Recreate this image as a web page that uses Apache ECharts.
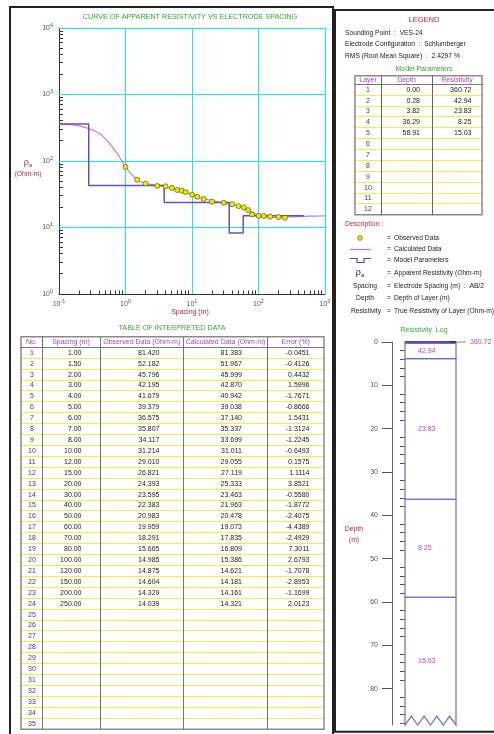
<!DOCTYPE html>
<html>
<head>
<meta charset="utf-8">
<title>VES-24</title>
<script src="https://cdn.jsdelivr.net/npm/echarts@6.0.0/dist/echarts.min.js"></script>
<style>
  html, body { margin: 0; padding: 0; background: #fff; }
  #chart { width: 494px; height: 734px; }
</style>
</head>
<body>
<div id="chart"></div>
<script>
// table of interpreted data
var spacing = [1, 1.5, 2, 3, 4, 5, 6, 7, 8, 10, 12, 15, 20, 30, 40, 50, 60, 70, 80, 100, 120, 150, 200, 250];
var observed = [81.420, 52.182, 45.796, 42.195, 41.679, 39.379, 36.575, 35.807, 34.117, 31.214, 29.010, 26.821,
  24.393, 23.595, 22.383, 20.983, 19.959, 18.291, 15.665, 14.985, 14.875, 14.604, 14.329, 14.039];
var calculated = [81.383, 51.967, 45.999, 42.870, 40.942, 39.038, 37.140, 35.337, 33.699, 31.011, 29.055, 27.119,
  25.333, 23.463, 21.963, 20.478, 19.073, 17.835, 16.809, 15.386, 14.621, 14.181, 14.161, 14.321];
var errorPct = [-0.0451, -0.4126, 0.4432, 1.5996, -1.7671, -0.8666, 1.5431, -1.3124, -1.2245, -0.6493, 0.1575, 1.1114,
  3.8521, -0.5580, -1.8772, -2.4075, -4.4389, -2.4929, 7.3011, 2.6793, -1.7078, -2.8953, -1.1699, 2.0123];
var tableRows = 35;

var curveLeftSpacing = [0.1, 0.15, 0.2, 0.3, 0.4, 0.5, 0.6, 0.7, 0.8, 0.9];
var curveLeftRho = [358, 352, 338, 300, 262, 215, 175, 142, 118, 97];
var curveRightSpacing = [300, 400, 500, 700, 1000];
var curveRightRho = [14.45, 14.6, 14.72, 14.85, 14.95];

// model parameters
var layerNo = ['1', '2', '3', '4', '5', '6', '7', '8', '9', '10', '11', '12'];
var layerDepth = [0, 0.28, 3.82, 36.29, 58.91];
var layerRho = [360.72, 42.94, 23.83, 8.25, 15.03];
var modelLineEnd = 480;
var logMaxDepth = 88.4;

var decadesX = [0.1, 1, 10, 100, 1000];
var decadesY = [1, 10, 100, 1000, 10000];
var depthMajorTicks = [0, 10, 20, 30, 40, 50, 60, 70, 80];

var FONT = '"Liberation Sans", Arial, Helvetica, sans-serif';
var C_GREEN = '#3a9e3a', C_RED = '#a83232', C_PURPLE = '#a643c4', C_BLUE = '#3636a6',
    C_MAG = '#b046bc', C_GRAY = '#555', C_CYAN = '#22e4f0', C_YELLOW = '#f2ec50';

// minor ticks for the log axes and the depth axis
var xMinor = [], yMinor = [], depthMinor = [];
for (var k = -1; k <= 2; k++) for (var m = 2; m <= 9; m++) xMinor.push(m * Math.pow(10, k));
for (k = 0; k <= 3; k++) for (m = 2; m <= 9; m++) yMinor.push(m * Math.pow(10, k));
for (var d = 2; d <= 88; d += 2) if (d % 10) depthMinor.push(d);

var chart = echarts.init(document.getElementById('chart'));

function powLabel(v) {
  var e = Math.round(Math.log(v) / Math.LN10);
  return '{b|10}{s|' + e + '}';
}
function powRich() {
  return {
    b: { fontSize: 7, color: C_GRAY, fontFamily: FONT, lineHeight: 12 },
    s: { fontSize: 5.5, color: C_GRAY, fontFamily: FONT, lineHeight: 6, verticalAlign: 'top' }
  };
}

function txt(x, y, text, color, size, align, extra) {
  var st = { text: text, fill: color, fontSize: size, fontFamily: FONT, align: align || 'left', verticalAlign: 'middle' };
  if (extra) for (var p in extra) st[p] = extra[p];
  return { type: 'text', x: x, y: y, z: 20, style: st };
}
function line(x1, y1, x2, y2, color, w, z) {
  return { type: 'line', z: z || 10, shape: { x1: x1, y1: y1, x2: x2, y2: y2 }, style: { stroke: color, lineWidth: w || 1 } };
}
function box(x, y, w, h, color, lw) {
  return { type: 'rect', z: 10, shape: { x: x, y: y, width: w, height: h }, style: { fill: 'none', stroke: color, lineWidth: lw || 1 } };
}
function crisp(v) { return Math.round(v - 0.5) + 0.5; }
function off() { return { show: false }; }

// table column layout
var tCols = { edges: [21, 42, 100, 183.5, 267.5, 324], no: 32, spacing: 81.5, obs: 159.5, calc: 242, err: 309.5 };
var mCols = { edges: [355, 381, 432, 482], no: 368, depth: 420, rho: 471.5 };

function cell(text, x, y, align, color) {
  return { type: 'text', x: x, y: y, style: { text: text, fill: color, fontSize: 7, fontFamily: FONT, align: align, verticalAlign: 'middle' } };
}

// decade grid lines and minor ticks of the log-log plot, placed through the axes' scales
// item: [value, 0 = x / 1 = y, 0 = grid line / 1 = minor tick]
function logGridItem(params, api) {
  var v = api.value(0), isX = api.value(1) === 0, tick = api.value(2) === 1;
  var cs = params.coordSys;
  var p = isX ? api.coord([v, decadesY[0]]) : api.coord([decadesX[0], v]);
  var x = crisp(p[0]), y = crisp(p[1]);
  var shape;
  if (tick) {
    shape = isX ? { x1: x, y1: y, x2: x, y2: y - 4 } : { x1: cs.x, y1: y, x2: cs.x + 4, y2: y };
  } else {
    shape = isX ? { x1: x, y1: cs.y, x2: x, y2: cs.y + cs.height } : { x1: cs.x, y1: y, x2: cs.x + cs.width, y2: y };
  }
  return { type: 'line', shape: shape, style: { stroke: tick ? '#333' : C_CYAN, lineWidth: 1 } };
}

function interpretedRow(params, api) {
  var i = params.dataIndex;
  var mid = api.coord([0, i])[1];
  var h = api.size([0, 1])[1];
  var cs = params.coordSys;
  var kids = [];
  if (i < tableRows - 1) {
    var yl = crisp(mid + h / 2);
    kids.push({ type: 'line', shape: { x1: cs.x, y1: yl, x2: cs.x + cs.width, y2: yl }, style: { stroke: C_YELLOW, lineWidth: 1 } });
  }
  kids.push(cell(String(i + 1), tCols.no, mid, 'center', C_BLUE));
  if (i < spacing.length) {
    kids.push(cell(spacing[i].toFixed(2), tCols.spacing, mid, 'right', '#222'));
    kids.push(cell(observed[i].toFixed(3), tCols.obs, mid, 'right', '#222'));
    kids.push(cell(calculated[i].toFixed(3), tCols.calc, mid, 'right', '#222'));
    kids.push(cell(errorPct[i].toFixed(4), tCols.err, mid, 'right', '#222'));
  }
  return { type: 'group', children: kids };
}

function modelRow(params, api) {
  var i = params.dataIndex;
  var mid = api.coord([0, i])[1];
  var h = api.size([0, 1])[1];
  var cs = params.coordSys;
  var kids = [];
  if (i < layerNo.length - 1) {
    var yl = crisp(mid + h / 2);
    kids.push({ type: 'line', shape: { x1: cs.x, y1: yl, x2: cs.x + cs.width, y2: yl }, style: { stroke: C_YELLOW, lineWidth: 1 } });
  }
  kids.push(cell(layerNo[i], mCols.no, mid, 'center', C_BLUE));
  if (i < layerDepth.length) {
    kids.push(cell(layerDepth[i].toFixed(2), mCols.depth, mid, 'right', '#222'));
    kids.push(cell(layerRho[i].toFixed(2), mCols.rho, mid, 'right', '#222'));
  }
  return { type: 'group', children: kids };
}

function logLayer(params, api) {
  var i = params.dataIndex;
  var last = i === layerDepth.length - 1;
  var top = layerDepth[i];
  var bottom = last ? logMaxDepth : layerDepth[i + 1];
  var p0 = api.coord([0, top]), p1 = api.coord([1, bottom]);
  var l = p0[0], r = p1[0], t = p0[1], b = p1[1];
  var kids = [];
  var col = '#6f6cc9';
  if (i === 0) {
    kids.push({ type: 'rect', shape: { x: l, y: t - 0.5, width: r - l, height: Math.max(b - t, 1) + 0.5 }, style: { fill: '#4a47a8', stroke: '#4a47a8', lineWidth: 1 } });
    kids.push({ type: 'line', shape: { x1: r - 6, y1: t, x2: r, y2: t }, style: { stroke: '#222', lineWidth: 1.5 } });
    kids.push({ type: 'line', shape: { x1: r, y1: t, x2: r + 10, y2: t }, style: { stroke: '#888', lineWidth: 1 } });
    kids.push(cell(layerRho[i].toFixed(2), r + 14, t, 'left', C_MAG));
    return { type: 'group', children: kids };
  }
  if (last) {
    var pts = [[r, t], [l, t], [l, b]];
    var w = r - l;
    for (var z = 0; z < 4; z++) {
      pts.push([l + w * (2 * z + 1) / 8, b - 9]);
      pts.push([l + w * (2 * z + 2) / 8, b]);
    }
    pts.push([r, t]);
    kids.push({ type: 'polyline', shape: { points: pts }, style: { fill: 'none', stroke: col, lineWidth: 1.2 } });
  } else {
    kids.push({ type: 'rect', shape: { x: l, y: t, width: r - l, height: b - t }, style: { fill: 'none', stroke: col, lineWidth: 1.2 } });
  }
  kids.push(cell(layerRho[i].toFixed(2), l + 13, (t + b) / 2, 'left', C_MAG));
  return { type: 'group', children: kids };
}

// points for series
var observedPts = spacing.map(function (s, i) { return [s, observed[i]]; });
var curvePts = [];
curveLeftSpacing.forEach(function (s, i) { curvePts.push([s, curveLeftRho[i]]); });
spacing.forEach(function (s, i) { curvePts.push([s, calculated[i]]); });
curveRightSpacing.forEach(function (s, i) { curvePts.push([s, curveRightRho[i]]); });
var modelPts = layerDepth.map(function (dd, i) { return [i === 0 ? 0.1 : dd, layerRho[i]]; });
modelPts.push([modelLineEnd, layerRho[layerRho.length - 1]]);

var gridItems = decadesX.slice(1).map(function (v) { return [v, 0, 0]; })
  .concat(decadesY.slice(1).map(function (v) { return [v, 1, 0]; }));
var tickItems = xMinor.map(function (v) { return [v, 0, 1]; })
  .concat(yMinor.map(function (v) { return [v, 1, 1]; }));

var tableIdx = [];
for (var r = 0; r < tableRows; r++) tableIdx.push([0, r]);
var rowNames = tableIdx.map(function (p) { return String(p[1] + 1); });
var modelIdx = layerNo.map(function (n, i) { return [0, i]; });
var logIdx = layerDepth.map(function (dd) { return [0, dd]; });

// static page furniture
var g = [];
g.push(box(10, 7, 323, 730, '#222', 2));
g.push(box(335, 10, 162, 721.7, '#222', 2));
g.push(txt(190, 17.5, 'CURVE OF APPARENT RESISTIVITY VS ELECTRODE SPACING', C_GREEN, 7.2, 'center'));
g.push(txt(28, 163, '{r|ρ}{a|a}', C_RED, 8, 'center', {
  rich: { r: { fontSize: 9, fill: C_RED, fontFamily: FONT, lineHeight: 10 }, a: { fontSize: 6, fill: C_RED, fontFamily: FONT, lineHeight: 6, verticalAlign: 'bottom' } }
}));
g.push(txt(28, 174, '(Ohm-m)', C_RED, 6.7, 'center'));
g.push(txt(190, 312, 'Spacing (m)', C_RED, 7, 'center'));
g.push(txt(172, 328, 'TABLE OF INTERPRETED DATA', C_GREEN, 7.2, 'center'));

// interpreted data table frame
var tTop = 336.7, tHead = 347.3, tBot = 729.2;
g.push(box(21, tTop, 303, tBot - tTop, '#8a8a8a', 1.5));
g.push(line(21, crisp(tHead), 324, crisp(tHead), '#777', 1));
for (var c = 1; c < tCols.edges.length - 1; c++) g.push(line(crisp(tCols.edges[c]), tTop, crisp(tCols.edges[c]), tBot, '#777', 1));
var tHeads = ['No.', 'Spacing (m)', 'Observed Data (Ohm-m)', 'Calculated Data (Ohm-m)', 'Error (%)'];
for (c = 0; c < tHeads.length; c++) g.push(txt((tCols.edges[c] + tCols.edges[c + 1]) / 2, 342, tHeads[c], C_PURPLE, 7, 'center'));

// legend panel
g.push(txt(424, 20, 'LEGEND', C_RED, 7.5, 'center'));
g.push(txt(345, 33.3, 'Sounding Point  :  VES-24', '#222', 6.7));
g.push(txt(345, 44.5, 'Electrode Configuration  :  Schlumberger', '#222', 6.7));
g.push(txt(345, 56, 'RMS (Root Mean Square)  :  2.4297 %', '#222', 6.7));
g.push(txt(424, 69, 'Model Parameters', C_GREEN, 7, 'center'));
var mTop = 75.7, mHead = 84.3, mBot = 84.3 + 12 * 10.88;
g.push(box(355, mTop, 127, mBot - mTop, '#8a8a8a', 1.5));
g.push(line(355, crisp(mHead), 482, crisp(mHead), '#777', 1));
for (c = 1; c < mCols.edges.length - 1; c++) g.push(line(crisp(mCols.edges[c]), mTop, crisp(mCols.edges[c]), mBot, '#666', 1));
var mHeads = ['Layer', 'Depth', 'Resistivity'];
for (c = 0; c < mHeads.length; c++) g.push(txt((mCols.edges[c] + mCols.edges[c + 1]) / 2, 80, mHeads[c], C_PURPLE, 7, 'center'));

g.push(txt(345, 224, 'Description :', C_RED, 6.9));
g.push({ type: 'circle', z: 20, shape: { cx: 360, cy: 238, r: 2.3 }, style: { fill: '#eded00', stroke: '#6a6a10', lineWidth: 0.8 } });
g.push(line(350, 249.5, 371, 249.5, '#c07ccc', 1.2));
g.push({ type: 'polyline', z: 20, shape: { points: [[350, 258.5], [357, 258.5], [357, 262.5], [364, 262.5], [364, 258.5], [371, 258.5]] }, style: { fill: 'none', stroke: '#4f4bb0', lineWidth: 1.2 } });
g.push(txt(360, 273, '{r|ρ}{a|a}', '#222', 8, 'center', {
  rich: { r: { fontSize: 9, fill: '#222', fontFamily: FONT, lineHeight: 10 }, a: { fontSize: 6, fill: '#222', fontFamily: FONT, lineHeight: 6, verticalAlign: 'bottom' } }
}));
g.push(txt(365, 286, 'Spacing', '#222', 6.7, 'center'));
g.push(txt(365, 298.5, 'Depth', '#222', 6.7, 'center'));
g.push(txt(366, 311, 'Resistivity', '#222', 6.7, 'center'));
var descY = [238, 249.5, 260.5, 273, 286, 298.5, 311];
var descT = ['Observed Data', 'Calculated Data', 'Model Parameters', 'Apparent Resistivity (Ohm-m)',
  'Electrode Spacing (m)  :  AB/2', 'Depth of Layer (m)', 'True Resistivity of Layer (Ohm-m)'];
for (c = 0; c < descY.length; c++) {
  g.push(txt(389, descY[c], '=', '#222', 6.7, 'center'));
  g.push(txt(394, descY[c], descT[c], '#222', 6.7));
}
g.push(txt(424, 330, 'Resistivity  Log', C_GREEN, 7, 'center'));
g.push(txt(354, 529, 'Depth', C_RED, 6.9, 'center'));
g.push(txt(354, 540, '(m)', C_RED, 6.9, 'center'));

chart.setOption({
  animation: false,
  backgroundColor: '#fff',
  textStyle: { fontFamily: FONT },
  grid: [
    { left: 59, top: 28, width: 266, height: 266 },
    { left: 21, top: tHead, width: 303, height: tBot - tHead },
    { left: 355, top: mHead, width: 127, height: mBot - mHead },
    { left: 405, top: 342, width: 51, height: logMaxDepth * 4.333 }
  ],
  xAxis: [
    {
      gridIndex: 0, type: 'log', logBase: 10, min: 0.1, max: 1000, position: 'bottom',
      axisLine: { show: true, onZero: false, lineStyle: { color: '#333', width: 1 } },
      axisTick: { show: true, inside: true, length: 6, customValues: decadesX, lineStyle: { color: '#333' } },
      axisLabel: { formatter: powLabel, rich: powRich(), margin: 4, customValues: decadesX },
      splitLine: off()
    },
    { gridIndex: 1, type: 'value', min: 0, max: 1, show: false },
    { gridIndex: 2, type: 'value', min: 0, max: 1, show: false },
    { gridIndex: 3, type: 'value', min: 0, max: 1, show: false }
  ],
  yAxis: [
    {
      gridIndex: 0, type: 'log', logBase: 10, min: 1, max: 10000, position: 'left',
      axisLine: { show: true, onZero: false, lineStyle: { color: '#333', width: 1 } },
      axisTick: { show: true, inside: true, length: 6, customValues: decadesY, lineStyle: { color: '#333' } },
      axisLabel: { formatter: powLabel, rich: powRich(), margin: 6, customValues: decadesY },
      splitLine: off()
    },
    { gridIndex: 1, type: 'category', data: rowNames, inverse: true, show: false },
    { gridIndex: 2, type: 'category', data: layerNo, inverse: true, show: false },
    {
      gridIndex: 3, type: 'value', inverse: true, min: 0, max: logMaxDepth, offset: 13, position: 'left',
      axisLine: { show: true, onZero: false, lineStyle: { color: '#666' } },
      axisTick: { show: true, inside: false, length: 10, customValues: depthMajorTicks, lineStyle: { color: '#555' } },
      axisLabel: { customValues: depthMajorTicks, color: C_GRAY, fontSize: 7, margin: 14 },
      splitLine: off()
    },
    {
      gridIndex: 3, type: 'value', inverse: true, min: 0, max: logMaxDepth, offset: 13, position: 'left',
      axisLine: off(), axisLabel: off(), splitLine: off(),
      axisTick: { show: true, inside: false, length: 5, customValues: depthMinor, lineStyle: { color: '#555' } }
    }
  ],
  graphic: g,
  series: [
    {
      type: 'custom', xAxisIndex: 0, yAxisIndex: 0, data: gridItems, renderItem: logGridItem,
      silent: true, clip: false, z: 1
    },
    {
      type: 'custom', xAxisIndex: 0, yAxisIndex: 0, data: tickItems, renderItem: logGridItem,
      silent: true, clip: false, z: 5
    },
    {
      name: 'Calculated Data', type: 'line', xAxisIndex: 0, yAxisIndex: 0, data: curvePts,
      smooth: 0.3, symbol: 'none', z: 2,
      lineStyle: { color: '#c07ccc', width: 1.2 }
    },
    {
      name: 'Model Parameters', type: 'line', xAxisIndex: 0, yAxisIndex: 0, data: modelPts,
      step: 'end', symbol: 'none', z: 3,
      lineStyle: { color: '#5b57b8', width: 1.5 }
    },
    {
      name: 'Observed Data', type: 'scatter', xAxisIndex: 0, yAxisIndex: 0, data: observedPts,
      symbolSize: 5, z: 4,
      itemStyle: { color: '#eded00', borderColor: '#6a6a10', borderWidth: 0.8, opacity: 1 }
    },
    {
      type: 'custom', xAxisIndex: 1, yAxisIndex: 1, data: tableIdx, renderItem: interpretedRow,
      silent: true, clip: false, z: 2
    },
    {
      type: 'custom', xAxisIndex: 2, yAxisIndex: 2, data: modelIdx, renderItem: modelRow,
      silent: true, clip: false, z: 2
    },
    {
      type: 'custom', xAxisIndex: 3, yAxisIndex: 3, data: logIdx, renderItem: logLayer,
      silent: true, clip: false, z: 3
    }
  ]
});
</script>
</body>
</html>
